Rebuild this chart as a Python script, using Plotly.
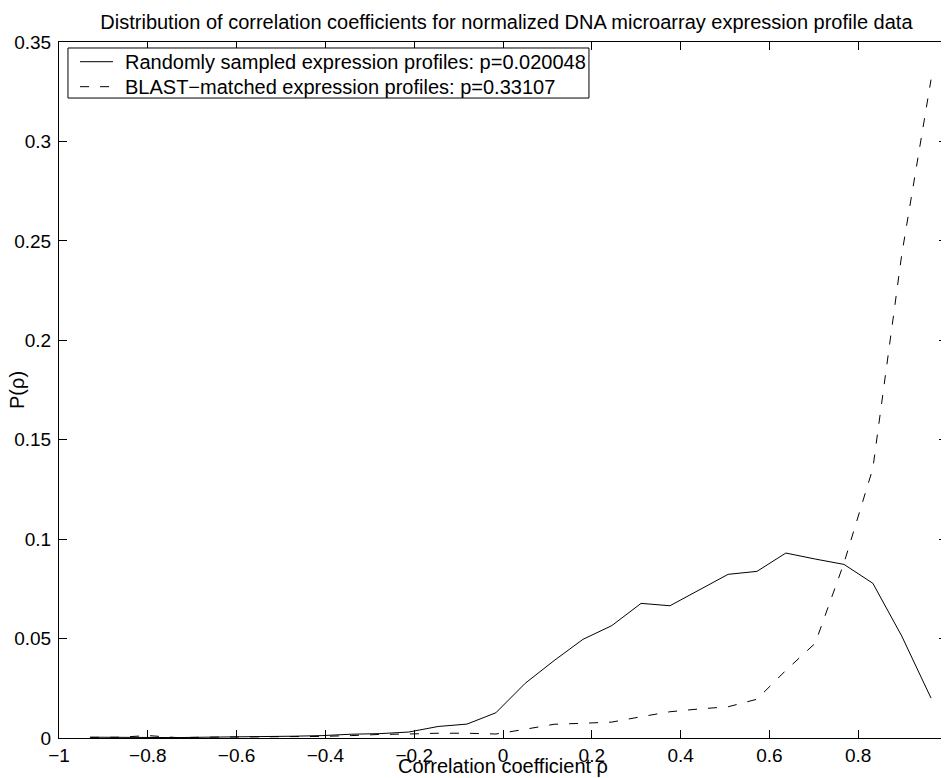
import plotly.graph_objects as go

rho = [-0.930, -0.865, -0.799, -0.734, -0.669, -0.604, -0.538, -0.473, -0.408, -0.342,
       -0.277, -0.212, -0.146, -0.081, -0.016, 0.050, 0.115, 0.180, 0.245, 0.311,
       0.376, 0.441, 0.507, 0.572, 0.637, 0.703, 0.768, 0.833, 0.898, 0.964]

random_p = [0.0004, 0.0003, 0.0003, 0.0002, 0.0004, 0.0005, 0.0007, 0.0009, 0.0012, 0.0019,
            0.0022, 0.0030, 0.0058, 0.0070, 0.0127, 0.0275, 0.0389, 0.0496, 0.0565, 0.0677,
            0.0665, 0.0744, 0.0823, 0.0838, 0.0930, 0.0900, 0.0873, 0.0778, 0.0513, 0.020048]

blast_p = [0.0003, 0.0004, 0.0012, 0.0002, 0.0004, 0.0005, 0.0004, 0.0006, 0.0008, 0.0012,
           0.0018, 0.0020, 0.0024, 0.0024, 0.0020, 0.0044, 0.0069, 0.0074, 0.0080, 0.0107,
           0.0132, 0.0146, 0.0157, 0.0195, 0.0340, 0.0476, 0.0880, 0.1356, 0.2430, 0.33107]

series_names = ["Randomly sampled expression profiles: p=0.020048",
                "BLAST\u2212matched expression profiles: p=0.33107"]
series_dash = ["solid", "9px,11px"]

x_ticks = [-1, -0.8, -0.6, -0.4, -0.2, 0, 0.2, 0.4, 0.6, 0.8, 1]
y_ticks = [0, 0.05, 0.1, 0.15, 0.2, 0.25, 0.3, 0.35]

FONT = "Liberation Sans, Arial, Helvetica, sans-serif"
FS_TICK = 19
FS = 20

fig = go.Figure()
for yv, nm, dsh in zip([random_p, blast_p], series_names, series_dash):
    fig.add_trace(go.Scatter(x=rho, y=yv, mode="lines", name=nm, showlegend=False,
                             line=dict(color="black", width=1, dash=dsh)))

axis_common = dict(showgrid=False, zeroline=False, showline=True, linecolor="black",
                   linewidth=1, mirror="ticks", ticks="inside", ticklen=8,
                   tickcolor="black", tickwidth=1,
                   tickfont=dict(family=FONT, size=FS_TICK, color="black"))

# page body has an 8px margin, so the figure is 8px smaller than the window
fig.update_layout(
    width=941, height=770,
    margin=dict(l=51, r=2, t=34, b=40),
    paper_bgcolor="white", plot_bgcolor="white",
    font=dict(family=FONT, size=FS, color="black"),
    title=dict(text="Distribution of correlation coefficients for normalized DNA microarray expression profile data",
               x=0.5297, xanchor="center", y=1 - 14 / 770, yanchor="middle", yref="container",
               font=dict(family=FONT, size=FS, color="black")),
    xaxis=dict(range=[-1, 1], tickvals=x_ticks, **axis_common),
    yaxis=dict(range=[0, 0.35], tickvals=y_ticks, ticklabelstandoff=3, **axis_common),
    showlegend=False,
)

# legend box (drawn in paper coordinates, matching the boxed legend of the original)
box_x0, box_x1 = 0.0101, 0.5968
box_y0, box_y1 = 0.9195, 0.9914
row_y = [0.9717, 0.9358]
samp_x0, samp_x1 = 0.0237, 0.0608
text_x = 0.0721

fig.add_shape(type="rect", xref="paper", yref="paper",
              x0=box_x0, x1=box_x1, y0=box_y0, y1=box_y1,
              line=dict(color="black", width=1), fillcolor="white", layer="above")
for ry, nm, dsh in zip(row_y, series_names, series_dash):
    fig.add_shape(type="line", xref="paper", yref="paper",
                  x0=samp_x0, x1=samp_x1, y0=ry, y1=ry,
                  line=dict(color="black", width=1, dash=dsh), layer="above")
    fig.add_annotation(text=nm, xref="paper", yref="paper", x=text_x, y=ry,
                       xanchor="left", yanchor="middle", showarrow=False,
                       font=dict(family=FONT, size=FS, color="black"))

fig.add_annotation(text="Correlation coefficient \u03c1", xref="paper", yref="paper",
                   x=0.5, y=0, yshift=-28, xanchor="center", yanchor="middle",
                   showarrow=False, font=dict(family=FONT, size=FS, color="black"))
fig.add_annotation(text="P(\u03c1)", xref="paper", yref="paper",
                   x=0, y=0.5, xshift=-42, xanchor="center", yanchor="middle",
                   textangle=-90, showarrow=False,
                   font=dict(family=FONT, size=FS, color="black"))

fig.write_html("out.html")
